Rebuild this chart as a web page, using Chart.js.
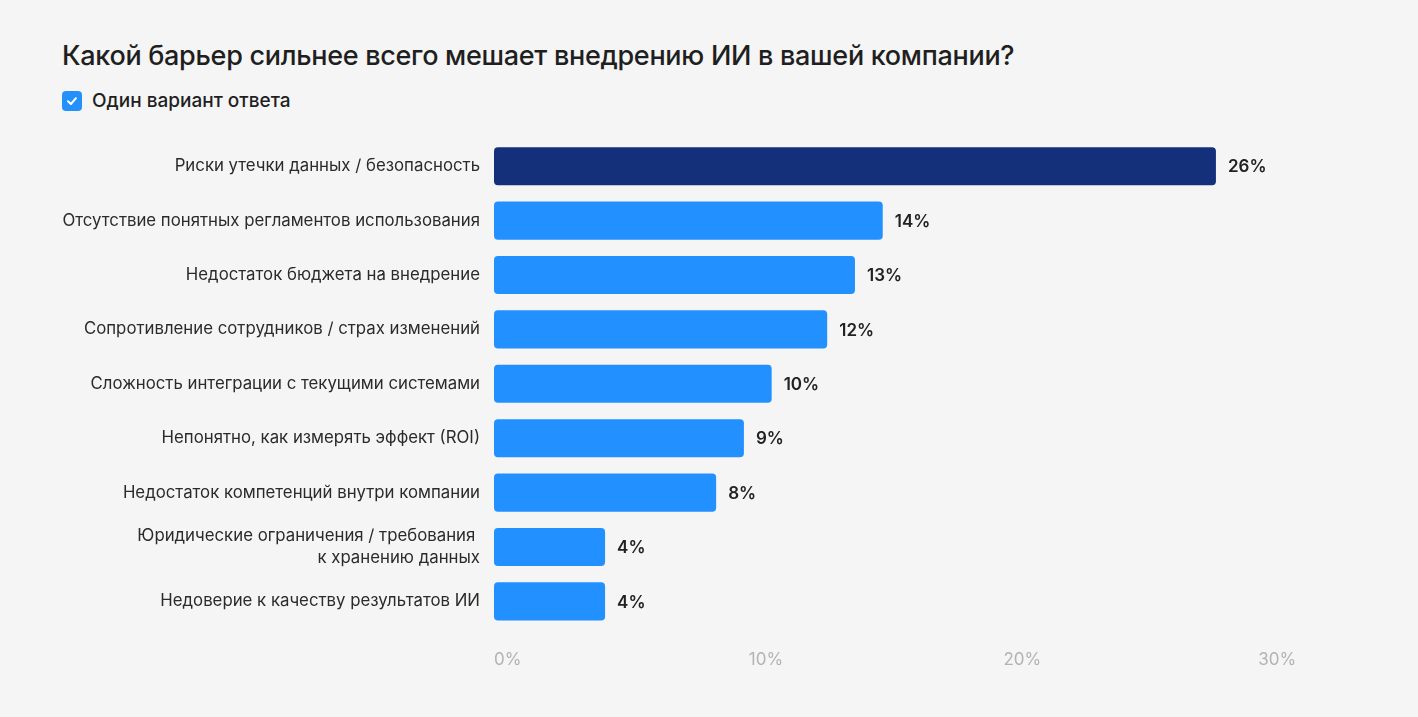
<!DOCTYPE html>
<html>
<head>
<meta charset="utf-8">
<script src="https://cdn.jsdelivr.net/npm/chart.js@4"></script>
<style>
  html, body { margin: 0; padding: 0; background: #f5f5f5; }
  body { width: 1418px; height: 717px; position: relative; overflow: hidden; font-family: Inter, "Noto Sans", sans-serif; }
  #head { position: absolute; left: 62px; top: 37px; color: #1f1f1f; }
  #head h1 { margin: 0; font-size: 27px; font-weight: 500; letter-spacing: -0.3px; line-height: 38px; }
  #head .sub { margin-top: 14px; display: flex; align-items: center; font-size: 19px; font-weight: 500; }
  #head .box { width: 20px; height: 20px; border-radius: 4px; background: #2490fb; margin-right: 10px; display: flex; align-items: center; justify-content: center; }
  #wrap { position: absolute; left: 0; top: 0; width: 1418px; height: 717px; }
</style>
</head>
<body>
<div id="head">
  <h1>Какой барьер сильнее всего мешает внедрению ИИ в вашей компании?</h1>
  <div class="sub">
    <div class="box"><svg width="14" height="14" viewBox="0 0 14 14"><path d="M3 7.2 L5.9 10 L11 4.2" fill="none" stroke="#fff" stroke-width="2" stroke-linecap="round" stroke-linejoin="round"/></svg></div>
    Один вариант ответа
  </div>
</div>
<div id="wrap"><canvas id="chart"></canvas></div>
<script>
// answers, top to bottom
const categories = [
  "Риски утечки данных / безопасность",
  "Отсутствие понятных регламентов использования",
  "Недостаток бюджета на внедрение",
  "Сопротивление сотрудников / страх изменений",
  "Сложность интеграции с текущими системами",
  "Непонятно, как измерять эффект (ROI)",
  "Недостаток компетенций внутри компании",
  ["Юридические ограничения / требования ", "к хранению данных"],
  "Недоверие к качеству результатов ИИ"
];
const shares = [26, 14, 13, 12, 10, 9, 8, 4, 4];
const axisTicks = [0, 10, 20, 30];

const barColors = shares.map((v, i) => i === 0 ? '#15307a' : '#2290ff');

// value labels to the right of each bar
const valueLabels = {
  id: 'valueLabels',
  afterDatasetsDraw(chart) {
    const ctx = chart.ctx;
    const meta = chart.getDatasetMeta(0);
    ctx.save();
    ctx.font = '600 17px Inter, "Noto Sans", sans-serif';
    ctx.fillStyle = '#222222';
    ctx.textAlign = 'left';
    ctx.textBaseline = 'middle';
    meta.data.forEach((bar, i) => {
      ctx.fillText(shares[i] + '%', bar.x + 12, bar.y + 1);
    });
    ctx.restore();
  }
};

new Chart(document.getElementById('chart'), {
  type: 'bar',
  data: {
    labels: categories,
    datasets: [{
      data: shares,
      backgroundColor: barColors,
      borderRadius: 4,
      borderSkipped: false,
      barPercentage: 0.7,
      categoryPercentage: 1
    }]
  },
  options: {
    indexAxis: 'y',
    responsive: true,
    maintainAspectRatio: false,
    animation: false,
    layout: { padding: { top: 139, right: 91, bottom: 26, left: 0 } },
    plugins: { legend: { display: false }, tooltip: { enabled: false } },
    scales: {
      x: { display: false, min: 0, max: 30 },
      x2: {
        position: 'bottom',
        min: 0,
        max: 32.7,
        grid: { display: false, drawTicks: false },
        border: { display: false },
        afterBuildTicks: s => { s.ticks = axisTicks.map(v => ({ value: v })); },
        ticks: {
          align: 'start',
          padding: 21,
          color: '#b3b3b3',
          font: { family: 'Inter, "Noto Sans", sans-serif', size: 17 },
          callback: v => v + '%'
        }
      },
      y: {
        grid: { display: false, drawTicks: false },
        border: { display: false },
        afterFit: s => { s.width = 494; },
        ticks: {
          padding: 14,
          color: '#2b2b2b',
          font: { family: 'Inter, "Noto Sans", sans-serif', size: 16.8, lineHeight: 1.3 }
        }
      }
    }
  },
  plugins: [valueLabels]
});
</script>
</body>
</html>
